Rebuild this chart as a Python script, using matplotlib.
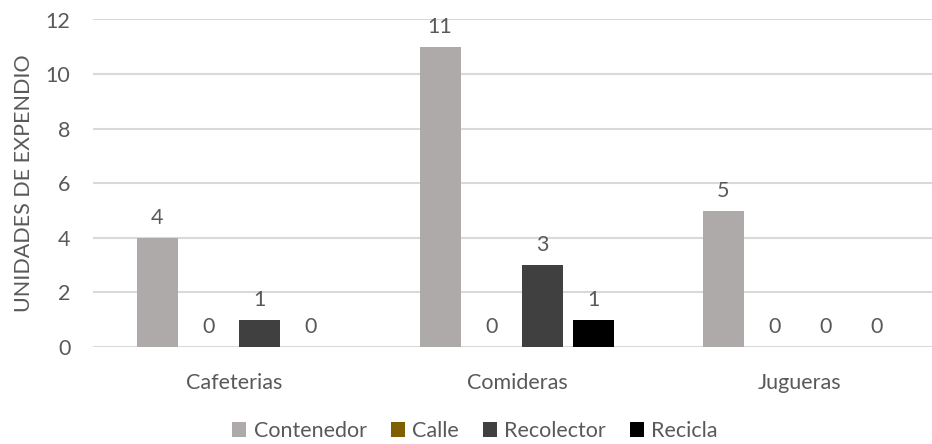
import numpy as np
import matplotlib.pyplot as plt
from matplotlib.patches import Patch

plt.rcParams['font.family'] = ['Lato', 'DejaVu Sans']

# data
categories = ['Cafeterias', 'Comideras', 'Jugueras']
series = ['Contenedor', 'Calle', 'Recolector', 'Recicla']
contenedor = [4, 11, 5]
calle = [0, 0, 0]
recolector = [1, 3, 0]
recicla = [0, 1, 0]
values = [contenedor, calle, recolector, recicla]
colors = ['#AEAAAA', '#7F6000', '#404040', '#000000']

text_color = '#595959'
grid_color = '#D9D9D9'
fs = 15.5

fig = plt.figure(figsize=(9.32, 4.44), dpi=100)
# plot area runs a little past the right edge of the figure
ax = fig.add_axes([92.5 / 932, 1 - 347 / 444, 849 / 932, 327.5 / 444])

x = np.arange(len(categories))
step = 0.181
width = 0.145

for i, (name, vals, col) in enumerate(zip(series, values, colors)):
    pos = x + (i - 1.5) * step
    bars = ax.bar(pos, vals, width=width, color=col, label=name, zorder=3)
    for b, v in zip(bars, vals):
        ax.annotate(f'{v}', (b.get_x() + b.get_width() / 2, v),
                    xytext=(0, 7), textcoords='offset points',
                    ha='center', va='bottom', fontsize=fs, color=text_color)

ax.set_xlim(-0.5, 2.5)
ax.set_ylim(0, 12)
ax.set_yticks(range(0, 13, 2))
ax.set_xticks(x)
ax.set_xticklabels(categories)
ax.yaxis.grid(True, color=grid_color, linewidth=1.5, zorder=0)
ax.set_axisbelow(True)
for s in ['top', 'right', 'left', 'bottom']:
    ax.spines[s].set_visible(False)
ax.tick_params(axis='both', length=0, labelsize=fs, colors=text_color)
ax.tick_params(axis='x', pad=19)
ax.tick_params(axis='y', pad=16)

ax.set_ylabel('UNIDADES DE EXPENDIO', fontsize=fs, color=text_color, labelpad=8)

handles = [Patch(facecolor=c, label=n) for n, c in zip(series, colors)]
fig.legend(handles=handles, loc='center', bbox_to_anchor=(475 / 932, 1 - 431 / 444),
           ncol=4, frameon=False, fontsize=fs, labelcolor=text_color,
           handlelength=0.65, handleheight=0.65, handletextpad=0.35, columnspacing=1.1)

fig.savefig('out.png', dpi=100)
